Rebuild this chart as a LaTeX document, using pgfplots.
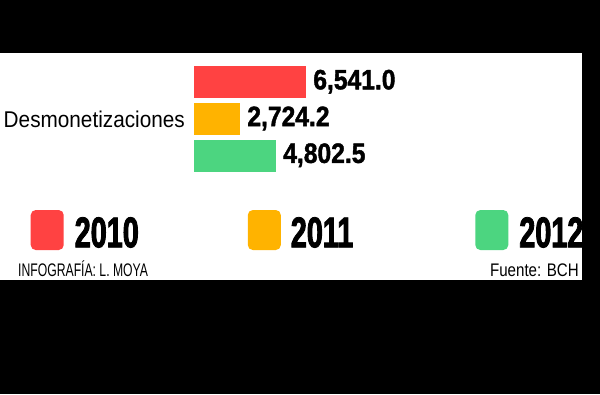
\documentclass[border=0pt]{standalone}
\usepackage{fontspec}
\usepackage{pgfplots}
\pgfplotsset{compat=1.18}
\setmainfont{Liberation Sans}
\newfontfamily\catfont[FakeStretch=0.91]{Liberation Sans}
\newfontfamily\numfont[FakeStretch=0.88,FakeBold=1.5]{Liberation Sans Bold}
\newfontfamily\legfont[FakeStretch=0.67,FakeBold=2]{Liberation Sans Bold}
\newfontfamily\footfont[FakeStretch=0.67]{Liberation Sans}
\newfontfamily\srcfont[FakeStretch=0.83]{Liberation Sans}
\definecolor{cA}{HTML}{FF4242}
\definecolor{cB}{HTML}{FFB300}
\definecolor{cC}{HTML}{4CD580}
\begin{document}
\begin{tikzpicture}[x=1pt,y=1pt]
\fill[black] (0,0) rectangle (600,-394);
\fill[white] (0,-53) rectangle (582,-280);
\begin{axis}[
  at={(193pt,-173.7pt)}, anchor=south west,
  scale only axis, width=113pt, height=110.4pt,
  xmin=0, xmax=6541, ymin=-0.5, ymax=2.5,
  hide axis, clip=false,
  xbar, bar width=33pt, bar shift=0pt,
  point meta=explicit symbolic,
  nodes near coords,
  nodes near coords style={font=\numfont\fontsize{28}{30}\selectfont, anchor=west, inner sep=0pt, xshift=7pt, text=black},
  legend columns=3,
  legend image code/.code={\fill[#1,draw=none,rounded corners=5pt] (0pt,-17pt) rectangle (33pt,23pt);},
  legend style={at={(-1.436,-0.329)}, anchor=north west, draw=none, fill=none,
    inner sep=0pt, outer sep=0pt,
    nodes={inner sep=0pt, outer sep=0pt, font=\legfont\fontsize{43}{45}\selectfont},
    /tikz/column 1/.style={column sep=11pt},
    /tikz/column 2/.style={column sep=109pt},
    /tikz/column 3/.style={column sep=10pt},
    /tikz/column 4/.style={column sep=122pt},
    /tikz/column 5/.style={column sep=11pt}},
]
\addplot[fill=cA, draw=white, line width=0.6pt] coordinates {(6541,2) [6,541.0]};
\addplot[fill=cB, draw=white, line width=0.6pt] coordinates {(2724.2,1) [2,724.2]};
\addplot[fill=cC, draw=white, line width=0.6pt] coordinates {(4802.5,0) [4,802.5]};
\legend{2010,2011,2012}
\node[anchor=base east, inner sep=0pt, font=\catfont\fontsize{22.8}{25}\selectfont] at (axis cs:0,1) [xshift=-8pt, yshift=-9.3pt] {Desmonetizaciones};
\end{axis}
\node[anchor=base west, inner sep=0pt, font=\footfont\fontsize{18.2}{20}\selectfont] at (18,-276) {INFOGRAFÍA: L. MOYA};
\node[anchor=base east, inner sep=0pt, font=\srcfont\fontsize{18.2}{20}\selectfont] at (579,-276) {Fuente: BCH};
\end{tikzpicture}
\end{document}
